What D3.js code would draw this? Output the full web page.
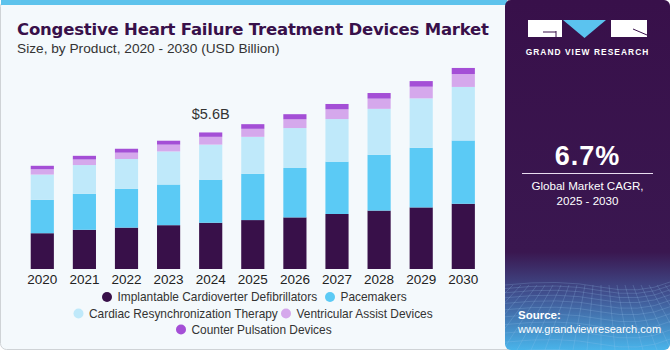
<!DOCTYPE html>
<html>
<head>
<meta charset="utf-8">
<script src="https://cdn.jsdelivr.net/npm/d3@7"></script>
<style>
  html, body { margin: 0; padding: 0; background: #ffffff; }
  svg { display: block; font-family: "Liberation Sans", Arial, sans-serif; }
</style>
</head>
<body>
<div id="chart"></div>
<script>
// data, USD billion
var years = ["2020", "2021", "2022", "2023", "2024", "2025", "2026", "2027", "2028", "2029", "2030"];
var icd = [1.47, 1.61, 1.70, 1.80, 1.90, 2.01, 2.12, 2.26, 2.40, 2.53, 2.68];
var pacemakers = [1.37, 1.48, 1.59, 1.67, 1.77, 1.90, 2.03, 2.15, 2.29, 2.45, 2.60];
var crt = [1.04, 1.18, 1.23, 1.36, 1.44, 1.52, 1.64, 1.75, 1.89, 2.03, 2.20];
var vad = [0.22, 0.23, 0.26, 0.28, 0.32, 0.33, 0.36, 0.40, 0.42, 0.48, 0.53];
var cpd = [0.14, 0.15, 0.16, 0.16, 0.18, 0.19, 0.21, 0.22, 0.23, 0.23, 0.25];
var seriesNames = ["Implantable Cardioverter Defibrillators", "Pacemakers", "Cardiac Resynchronization Therapy",
  "Ventricular Assist Devices", "Counter Pulsation Devices"];
var seriesKeys = ["icd", "pm", "crt", "vad", "cpd"];
var colors = ["#381049", "#5bcaf5", "#bfe9fa", "#d5a8ec", "#a44fd6"];
var annotYear = "2024", annotText = "$5.6B";

var W = 670, H = 350;

var rows = years.map(function(y, i) {
  return {year: y, icd: icd[i], pm: pacemakers[i], crt: crt[i], vad: vad[i], cpd: cpd[i]};
});

var svg = d3.select("#chart").append("svg")
    .attr("width", W)
    .attr("height", H);

var defs = svg.append("defs");
var grad = defs.append("linearGradient").attr("id", "panelGrad")
    .attr("x1", 0).attr("y1", 0).attr("x2", 0).attr("y2", 1);
grad.append("stop").attr("offset", "0").attr("stop-color", "#38104a");
grad.append("stop").attr("offset", "0.72").attr("stop-color", "#3a1750");
grad.append("stop").attr("offset", "0.84").attr("stop-color", "#40508f");
grad.append("stop").attr("offset", "1").attr("stop-color", "#49b4ea");
defs.append("clipPath").attr("id", "panelClip")
  .append("rect").attr("x", 505).attr("y", 0).attr("width", 165).attr("height", H).attr("rx", 6);

// background + frame
svg.append("rect").attr("x", 0.5).attr("y", 0.5).attr("width", W - 1).attr("height", H - 1)
    .attr("rx", 6).attr("fill", "#f4f9fc").attr("stroke", "#cfd3d6");
svg.append("rect").attr("x", 1).attr("y", 0).attr("width", 506).attr("height", 5).attr("fill", "#5ec3ec");

// right panel
var panel = svg.append("g").attr("clip-path", "url(#panelClip)");
panel.append("rect").attr("x", 505).attr("y", 0).attr("width", 165).attr("height", H)
    .attr("fill", "url(#panelGrad)");
// faint mesh at bottom of panel
var mesh = panel.append("g").attr("stroke", "#9fc8f0").attr("stroke-opacity", 0.35).attr("fill", "none").attr("stroke-width", 0.6);
d3.range(0, 14).forEach(function(k) {
  var yy = 285 + k * k * 0.35 + k * 3.2;
  mesh.append("path").attr("d", "M505," + yy + " Q560," + (yy - 6) + " 600," + (yy + 2) + " T670," + (yy - 3));
});
d3.range(0, 22).forEach(function(k) {
  var xt = 505 + k * 8, xb = 505 + (k - 11) * 14 + 82;
  mesh.append("line").attr("x1", xt).attr("y1", 285).attr("x2", xb).attr("y2", H);
});

// logo
var logo = svg.append("g");
logo.append("rect").attr("x", 528).attr("y", 20).attr("width", 34).attr("height", 17).attr("fill", "#ffffff");
logo.append("line").attr("x1", 543).attr("y1", 32).attr("x2", 556).attr("y2", 32).attr("stroke", "#38104a").attr("stroke-width", 1);
logo.append("line").attr("x1", 556).attr("y1", 31).attr("x2", 556).attr("y2", 37).attr("stroke", "#38104a").attr("stroke-width", 1);
logo.append("path").attr("d", "M563,20 L606,20 L584.5,38 Z").attr("fill", "#5bc3ef");
logo.append("rect").attr("x", 611).attr("y", 20).attr("width", 36).attr("height", 17).attr("fill", "#ffffff");
logo.append("line").attr("x1", 633).attr("y1", 29).attr("x2", 647).attr("y2", 35).attr("stroke", "#38104a").attr("stroke-width", 1);
logo.append("text").attr("x", 587.5).attr("y", 55).attr("text-anchor", "middle")
    .attr("fill", "#ffffff").attr("font-size", 8.4).attr("font-weight", "bold").attr("letter-spacing", 1.05)
    .text("GRAND VIEW RESEARCH");

// CAGR block
svg.append("text").attr("x", 587.5).attr("y", 165).attr("text-anchor", "middle")
    .attr("fill", "#ffffff").attr("font-size", 27).attr("font-weight", "bold").attr("letter-spacing", 1)
    .text("6.7%");
svg.append("line").attr("x1", 522).attr("x2", 653).attr("y1", 173.5).attr("y2", 173.5)
    .attr("stroke", "#e9ddf0").attr("stroke-width", 1);
svg.append("text").attr("x", 587.5).attr("y", 190).attr("text-anchor", "middle")
    .attr("fill", "#ffffff").attr("font-size", 11.6).text("Global Market CAGR,");
svg.append("text").attr("x", 587.5).attr("y", 205).attr("text-anchor", "middle")
    .attr("fill", "#ffffff").attr("font-size", 11.6).text("2025 - 2030");
svg.append("text").attr("x", 518).attr("y", 319)
    .attr("fill", "#ffffff").attr("font-size", 11.5).attr("font-weight", "bold").text("Source:");
svg.append("text").attr("x", 518).attr("y", 333)
    .attr("fill", "#ffffff").attr("font-size", 11).text("www.grandviewresearch.com");

// titles
svg.append("text").attr("x", 17).attr("y", 35)
    .attr("fill", "#38104a").attr("font-size", 16.5).attr("font-weight", "bold")
    .attr("font-family", "'DejaVu Sans', sans-serif")
    .attr("textLength", 472)
    .text("Congestive Heart Failure Treatment Devices Market");
svg.append("text").attr("x", 17).attr("y", 53)
    .attr("fill", "#333333").attr("font-size", 13.7)
    .text("Size, by Product, 2020 - 2030 (USD Billion)");

// scales
var x = d3.scaleBand().domain(years).range([21.25, 484.35]).paddingInner(0.45).paddingOuter(0.225);
var y = d3.scaleLinear().domain([0, 10]).range([269, 25.6]);
var color = d3.scaleOrdinal().domain(seriesKeys).range(colors);

var stacked = d3.stack().keys(seriesKeys)(rows);

svg.append("g").selectAll("g")
  .data(stacked)
  .join("g")
    .attr("fill", function(d) { return color(d.key); })
  .selectAll("rect")
  .data(function(d) { return d; })
  .join("rect")
    .attr("x", function(d) { return x(d.data.year); })
    .attr("y", function(d) { return y(d[1]); })
    .attr("width", x.bandwidth())
    .attr("height", function(d) { return y(d[0]) - y(d[1]); });

// x axis
svg.append("g")
    .attr("transform", "translate(0,269)")
    .call(d3.axisBottom(x).tickSize(0).tickPadding(5))
    .call(function(g) { g.select(".domain").remove(); })
    .call(function(g) {
      g.selectAll("text").attr("font-size", 13.5).attr("fill", "#222222")
        .attr("font-family", "'Liberation Sans', Arial, sans-serif");
    });

// annotation
var annotIdx = years.indexOf(annotYear);
var annotTotal = icd[annotIdx] + pacemakers[annotIdx] + crt[annotIdx] + vad[annotIdx] + cpd[annotIdx];
svg.append("text")
    .attr("x", x(annotYear) + x.bandwidth() / 2)
    .attr("y", y(annotTotal) - 13)
    .attr("text-anchor", "middle").attr("fill", "#333333").attr("font-size", 14.5)
    .text(annotText);

// legend
var legendRows = [
  [{i: 0, x: 107}, {i: 1, x: 330}],
  [{i: 2, x: 78.5}, {i: 3, x: 286}],
  [{i: 4, x: 181}]
];
var legendY = [297, 313.5, 329.5];
legendRows.forEach(function(row, r) {
  row.forEach(function(item) {
    var g = svg.append("g").attr("transform", "translate(" + item.x + "," + legendY[r] + ")");
    g.append("circle").attr("r", 5).attr("fill", colors[item.i]);
    g.append("text").attr("x", 10.5).attr("y", 4.2).attr("font-size", 11.9).attr("fill", "#333333")
      .text(seriesNames[item.i]);
  });
});
</script>
</body>
</html>
